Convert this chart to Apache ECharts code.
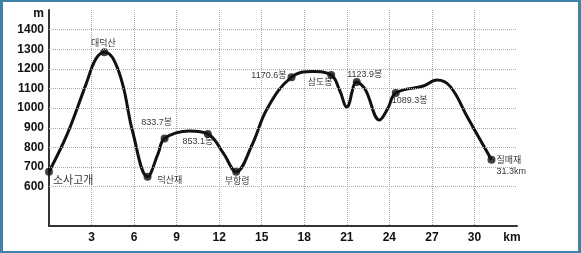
<!DOCTYPE html>
<html>
<head>
<meta charset="utf-8">
<script src="https://cdn.jsdelivr.net/npm/echarts@6/dist/echarts.min.js"></script>
<style>
  html, body { margin: 0; padding: 0; background: #fff; }
  #frame { width: 581px; height: 253px; box-sizing: border-box; border: 2px solid #4183a8; border-left-width: 3px; border-right-width: 3px; position: relative; }
  #chart { position: absolute; left: -3px; top: -2px; width: 581px; height: 253px; }
</style>
</head>
<body>
<div id="frame"><div id="chart"></div></div>
<script>
// 고도 단면 (거리 km, 고도 m)
var distKm = [0, 1.3, 2.6, 3.3, 3.9, 4.5, 5.2, 5.9, 6.95, 7.7, 8.15, 9.9, 11.2, 12.3, 13.2, 14.3, 15.4, 17.1, 18.6, 19.9,
  20.5, 21.0, 21.7, 22.3, 23.3, 23.9, 24.45, 26.4, 27.35, 28.3, 29.5, 31.2]
var elevM = [676, 870, 1120, 1250, 1285, 1255, 1120, 880, 651, 770, 846, 884, 869, 770, 676, 810, 1000, 1158, 1187, 1169,
  1090, 1006, 1133, 1095, 940, 1000, 1077, 1113, 1143, 1110, 955, 737]

// 지점
var placeNames = ['소사고개', '대덕산', '덕산재', '833.7봉', '853.1봉', '부항령', '1170.6봉', '삼도봉', '1123.9봉', '1089.3봉', '질매재\n31.3km']
var placeKm = [0, 3.9, 6.95, 8.15, 11.2, 13.2, 17.1, 19.9, 21.7, 24.45, 31.2]
var placeM = [676, 1285, 651, 846, 869, 676, 1158, 1169, 1133, 1077, 737]

var gridLevels = [600, 700, 800, 900, 1000, 1100, 1200, 1300, 1400]

// 라벨 위치 (지점 순서대로)
var labelLayout = [
  { align: 'left', offset: [4, 9], fontSize: 11 },
  { align: 'center', offset: [-1, -9], fontSize: 9 },
  { align: 'left', offset: [10, 4], fontSize: 9 },
  { align: 'center', offset: [-8, -16], fontSize: 9 },
  { align: 'center', offset: [-10, 8], fontSize: 9 },
  { align: 'center', offset: [1, 10], fontSize: 9 },
  { align: 'right', offset: [-5, -2], fontSize: 9 },
  { align: 'center', offset: [-11, 8], fontSize: 9 },
  { align: 'center', offset: [8, -8], fontSize: 9 },
  { align: 'center', offset: [14, 7], fontSize: 9 },
  { align: 'left', offset: [5, 6], fontSize: 9 }
]

var chart = echarts.init(document.getElementById('chart'))

var line = distKm.map(function (d, i) { return [d, elevM[i]] })
var places = placeNames.map(function (n, i) {
  var l = labelLayout[i]
  return {
    name: n,
    value: [placeKm[i], placeM[i]],
    label: {
      show: true,
      position: 'inside',
      align: l.align,
      verticalAlign: 'middle',
      offset: l.offset,
      fontSize: l.fontSize,
      lineHeight: 11,
      color: '#000',
      fontFamily: 'Liberation Sans, Noto Sans CJK KR',
      formatter: n
    }
  }
})

chart.setOption({
  animation: false,
  grid: { left: 49, top: 10, width: 468, height: 216 },
  xAxis: {
    type: 'value',
    min: 0,
    max: 33,
    interval: 3,
    axisLine: { lineStyle: { color: '#333', width: 2 } },
    axisTick: { show: false },
    axisLabel: {
      margin: 6,
      color: '#111',
      fontWeight: 'bold',
      fontSize: 12,
      fontFamily: 'Liberation Sans',
      showMinLabel: false,
      formatter: function (v) { return v === 33 ? 'km   ' : v }
    },
    splitLine: { show: true, showMinLine: false, showMaxLine: false, lineStyle: { color: '#aaa', type: 'dotted', width: 1 } }
  },
  yAxis: {
    type: 'value',
    min: 400,
    max: 1500,
    interval: 100,
    axisLine: { show: true, lineStyle: { color: '#333', width: 2 } },
    axisTick: { show: false },
    axisLabel: {
      margin: 5,
      color: '#111',
      fontWeight: 'bold',
      fontSize: 12,
      fontFamily: 'Liberation Sans',
      formatter: function (v) {
        if (v === 1500) return '{u|m}'
        if (v < 600) return ''
        return v
      },
      rich: { u: { fontWeight: 'bold', fontSize: 12, fontFamily: 'Liberation Sans', color: '#111', padding: [7, 0, 0, 0] } }
    },
    splitLine: { show: false }
  },
  series: [
    {
      type: 'line',
      data: line,
      smooth: 0.4,
      symbol: 'none',
      lineStyle: { color: '#111', width: 3 },
      markLine: {
        silent: true,
        symbol: 'none',
        label: { show: false },
        lineStyle: { color: '#aaa', type: 'dotted', width: 1 },
        data: gridLevels.map(function (v) { return { yAxis: v } })
      },
      z: 3
    },
    {
      type: 'scatter',
      data: places,
      symbol: 'circle',
      symbolSize: 8,
      itemStyle: { color: '#111' },
      z: 4
    }
  ]
})
</script>
</body>
</html>
